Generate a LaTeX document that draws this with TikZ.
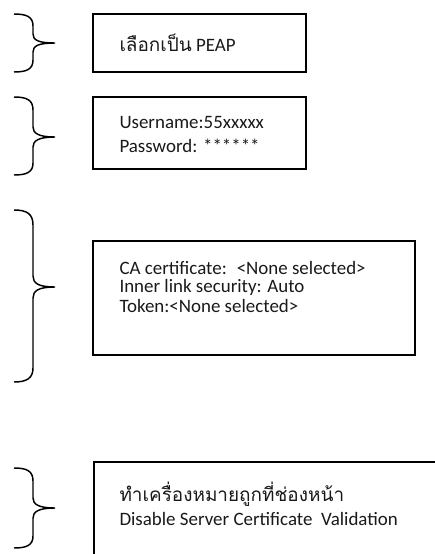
\documentclass[tikz,border=0pt]{standalone}
\usepackage{fontspec}
\setmainfont{Carlito}
\newfontfamily\thaifont[Script=Thai]{Loma}

\tikzset{every picture/.style={line width=0.75pt}}
\tikzset{
  boxline/.style={draw={rgb, 255:red, 0; green, 0; blue, 0}, line width=1.1pt},
  braceline/.style={draw={rgb, 255:red, 0; green, 0; blue, 0}, line width=1.1pt},
  boxtext/.style={anchor=west, inner sep=0.75pt, font=\fontsize{14.2}{17}\selectfont, color={rgb, 255:red, 25; green, 25; blue, 25}}
}

\begin{document}
\begin{tikzpicture}[x=0.75pt,y=0.75pt,yscale=-1,xscale=1]
\clip (0,0) rectangle (435,554);

%Shape: Brace 1
\draw [braceline] (14,14) .. controls (27,14) and (33,17) .. (33,26) -- (33,34) .. controls (33,40) and (38,43) .. (55,43) .. controls (38,43) and (33,46) .. (33,52) -- (33,60) .. controls (33,69) and (27,72) .. (14,72) ;
%Shape: Brace 2
\draw [braceline] (14,97) .. controls (27,97) and (33,100) .. (33,110) -- (33,127) .. controls (33,133) and (38,137) .. (55,137) .. controls (38,137) and (33,141) .. (33,147) -- (33,163) .. controls (33,172) and (27,175) .. (14,175) ;
%Shape: Brace 3
\draw [braceline] (14,210) .. controls (27,210) and (33,214) .. (33,225) -- (33,276) .. controls (33,283) and (38,287) .. (55,287) .. controls (38,287) and (33,291) .. (33,298) -- (33,368) .. controls (33,378) and (27,382) .. (14,382) ;
%Shape: Brace 4
\draw [braceline] (14,468) .. controls (27,468) and (33,471) .. (33,481) -- (33,498) .. controls (33,504) and (38,508) .. (55,508) .. controls (38,508) and (33,512) .. (33,518) -- (33,536) .. controls (33,545) and (27,548) .. (14,548) ;

%Shape: Rectangle 1
\draw [boxline] (93,14) rectangle (306,72) ;
%Shape: Rectangle 2
\draw [boxline] (93,97) rectangle (306,169) ;
%Shape: Rectangle 3
\draw [boxline] (93,241) rectangle (415,355) ;
%Shape: Rectangle 4
\draw [boxline] (94,462) rectangle (445,570) ;

% Text Node
\node [boxtext] (peap) at (118,43) {{\thaifont เลือกเป็น} PEAP};
% Text Node
\node [boxtext] (user) at (118,122) {Username:55xxxxx};
% Text Node
\node [boxtext] (pass) at (118,146) {Password: ******};
% Text Node
\node [boxtext] (cacert) at (118,268) {CA certificate: \ <None selected>};
% Text Node
\node [boxtext] (inner) at (118,287) {Inner link security: Auto};
% Text Node
\node [boxtext] (token) at (118,306) {Token:<None selected>};
% Text Node
\node [boxtext] (tick) at (118,494) {\thaifont ทำเครื่องหมายถูกที่ช่องหน้า};
% Text Node
\node [boxtext] (disable) at (118,519) {Disable Server Certificate \ Validation};

\end{tikzpicture}
\end{document}
